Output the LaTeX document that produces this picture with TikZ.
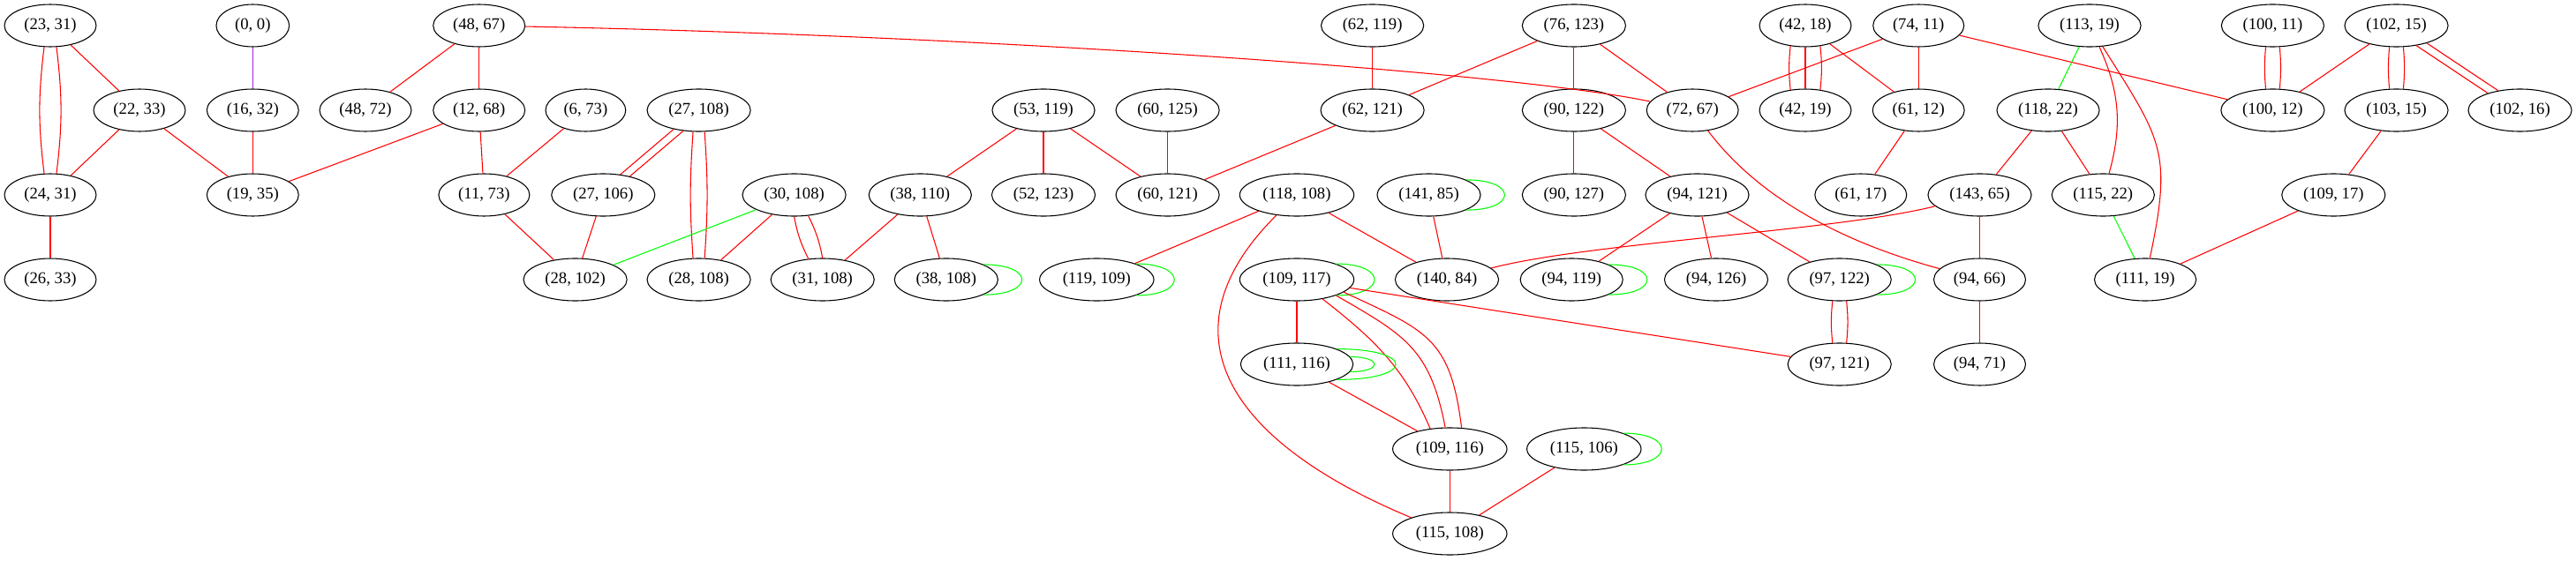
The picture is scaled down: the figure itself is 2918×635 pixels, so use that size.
\documentclass[tikz,border=0pt]{standalone}
\usepackage{fontspec}
\setmainfont{Liberation Serif}
\usepackage{tikz}
\usetikzlibrary{shapes.geometric}

\definecolor{gvred}{HTML}{FF0000}
\definecolor{gvgreen}{HTML}{00FF00}
\definecolor{gvpurple}{HTML}{A020F0}

\tikzset{
    pair/.style={ellipse, draw=black, line width=0.8pt, minimum width=62pt, minimum height=36pt,
        inner xsep=5.4pt, inner ysep=2pt, font=\fontsize{14}{16}\selectfont},
    redge/.style={draw=gvred, line width=0.8pt},
    gedge/.style={draw=gvgreen, line width=0.8pt},
    pedge/.style={draw=gvpurple, line width=0.8pt},
    gloop/.style={draw=gvgreen, line width=0.8pt}
}

\begin{document}
\begin{tikzpicture}[x=0.75pt, y=0.75pt]
    \useasboundingbox (0,0) rectangle (2918,-635);

    % first rank
    \node [pair] (n23x31) at (57,-29) {(23, 31)};
    \node [pair] (n0x0) at (286.3,-29) {(0, 0)};
    \node [pair] (n48x67) at (542.7,-29) {(48, 67)};
    \node [pair] (n62x119) at (1554.6,-29) {(62, 119)};
    \node [pair] (n76x123) at (1782.9,-29) {(76, 123)};
    \node [pair] (n42x18) at (2045,-29) {(42, 18)};
    \node [pair] (n74x11) at (2173.2,-29) {(74, 11)};
    \node [pair] (n113x19) at (2367,-29) {(113, 19)};
    \node [pair] (n100x11) at (2574.4,-29) {(100, 11)};
    \node [pair] (n102x15) at (2714.5,-29) {(102, 15)};

    % second rank
    \node [pair] (n22x33) at (158,-125) {(22, 33)};
    \node [pair] (n16x32) at (286.3,-125) {(16, 32)};
    \node [pair] (n48x72) at (414,-125) {(48, 72)};
    \node [pair] (n12x68) at (542.7,-125) {(12, 68)};
    \node [pair] (n6x73) at (663.4,-125) {(6, 73)};
    \node [pair] (n27x108) at (791.6,-125) {(27, 108)};
    \node [pair] (n53x119) at (1182,-125) {(53, 119)};
    \node [pair] (n60x125) at (1322.6,-125) {(60, 125)};
    \node [pair] (n62x121) at (1554.6,-125) {(62, 121)};
    \node [pair] (n90x122) at (1782.9,-125) {(90, 122)};
    \node [pair] (n72x67) at (1917.2,-125) {(72, 67)};
    \node [pair] (n42x19) at (2045,-125) {(42, 19)};
    \node [pair] (n61x12) at (2173.2,-125) {(61, 12)};
    \node [pair] (n118x22) at (2320,-125) {(118, 22)};
    \node [pair] (n100x12) at (2574.4,-125) {(100, 12)};
    \node [pair] (n103x15) at (2714.5,-125) {(103, 15)};
    \node [pair] (n102x16) at (2854.5,-125) {(102, 16)};

    % third rank
    \node [pair] (n24x31) at (57,-221) {(24, 31)};
    \node [pair] (n19x35) at (286.3,-221) {(19, 35)};
    \node [pair] (n11x73) at (548.4,-221) {(11, 73)};
    \node [pair] (n27x106) at (683.3,-221) {(27, 106)};
    \node [pair] (n30x108) at (899.6,-221) {(30, 108)};
    \node [pair] (n38x110) at (1042.3,-221) {(38, 110)};
    \node [pair] (n52x123) at (1182,-221) {(52, 123)};
    \node [pair] (n60x121) at (1322.6,-221) {(60, 121)};
    \node [pair] (n118x108) at (1469,-221) {(118, 108)};
    \node [pair] (n141x85) at (1618.5,-221) {(141, 85)};
    \node [pair] (n90x127) at (1782.9,-221) {(90, 127)};
    \node [pair] (n94x121) at (1922.5,-221) {(94, 121)};
    \node [pair] (n61x17) at (2107.8,-221) {(61, 17)};
    \node [pair] (n143x65) at (2242.5,-221) {(143, 65)};
    \node [pair] (n115x22) at (2382.3,-221) {(115, 22)};
    \node [pair] (n109x17) at (2643.3,-221) {(109, 17)};

    % fourth rank
    \node [pair] (n26x33) at (57,-317) {(26, 33)};
    \node [pair] (n28x102) at (651.6,-317) {(28, 102)};
    \node [pair] (n28x108) at (791.6,-317) {(28, 108)};
    \node [pair] (n31x108) at (931.7,-317) {(31, 108)};
    \node [pair] (n38x108) at (1071.8,-317) {(38, 108)};
    \node [pair] (n119x109) at (1242.3,-317) {(119, 109)};
    \node [pair] (n109x117) at (1469,-317) {(109, 117)};
    \node [pair] (n140x84) at (1639,-317) {(140, 84)};
    \node [pair] (n94x119) at (1780.2,-317) {(94, 119)};
    \node [pair] (n94x126) at (1944,-317) {(94, 126)};
    \node [pair] (n97x122) at (2083.7,-317) {(97, 122)};
    \node [pair] (n94x66) at (2242.5,-317) {(94, 66)};
    \node [pair] (n111x19) at (2430.1,-317) {(111, 19)};

    % lower ranks
    \node [pair] (n111x116) at (1469,-413) {(111, 116)};
    \node [pair] (n97x121) at (2083.7,-413) {(97, 121)};
    \node [pair] (n94x71) at (2242.5,-413) {(94, 71)};
    \node [pair] (n109x116) at (1642.3,-509) {(109, 116)};
    \node [pair] (n115x106) at (1794.3,-509) {(115, 106)};
    \node [pair] (n115x108) at (1642.3,-605) {(115, 108)};

    % left part
    \draw [redge] (n23x31.-106) to[bend right=7] (n24x31.106);
    \draw [redge] (n23x31.-74) to[bend left=7] (n24x31.74);
    \draw [redge] (n23x31) -- (n22x33);
    \draw [redge] (n22x33) -- (n24x31);
    \draw [redge] (n22x33) -- (n19x35);
    \draw [pedge] (n0x0) -- (n16x32);
    \draw [redge] (n16x32) -- (n19x35);
    \draw [redge] (n24x31) -- (n26x33);
    \draw [redge] (n48x67) -- (n48x72);
    \draw [redge] (n48x67) -- (n12x68);
    \draw [redge] (n48x67) .. controls (1100,-40) and (1700,-80) .. (n72x67);
    \draw [redge] (n12x68) -- (n19x35);
    \draw [redge] (n12x68) -- (n11x73);
    \draw [redge] (n6x73) -- (n11x73);
    \draw [redge] (n11x73) -- (n28x102);
    \draw [redge] (n27x108.-143) -- (n27x106.50);
    \draw [redge] (n27x108.-127) -- (n27x106.35);
    \draw [redge] (n27x108.-105) to[bend right=4] (n28x108.105);
    \draw [redge] (n27x108.-75) to[bend left=4] (n28x108.75);
    \draw [redge] (n27x106) -- (n28x102);
    \draw [gedge] (n30x108) -- (n28x102);
    \draw [redge] (n30x108) -- (n28x108);
    \draw [redge] (n30x108.-90) to[bend right=8] (n31x108.124);
    \draw [redge] (n30x108.-56) to[bend left=8] (n31x108.90);
    \draw [redge] (n38x110) -- (n31x108);
    \draw [redge] (n38x110) -- (n38x108);
    \draw [gloop] (n38x108.22) .. controls +(58,0) and +(58,0) .. (n38x108.-22);
    \draw [redge] (n53x119) -- (n38x110);
    \draw [redge] (n53x119) -- (n52x123);
    \draw [redge] (n53x119) -- (n60x121);
    \draw [redge] (n60x125) -- (n60x121);

    % middle part
    \draw [redge] (n62x121) -- (n60x121);
    \draw [redge] (n62x119) -- (n62x121);
    \draw [redge] (n76x123) -- (n62x121);
    \draw [redge] (n76x123) -- (n90x122);
    \draw [redge] (n76x123) -- (n72x67);
    \draw [redge] (n118x108) -- (n119x109);
    \draw [redge] (n118x108) -- (n140x84);
    \draw [redge] (n118x108) .. controls (1315,-374) and (1385,-498) .. (n115x108);
    \draw [gloop] (n119x109.22) .. controls +(58,0) and +(58,0) .. (n119x109.-22);
    \draw [gloop] (n141x85.22) .. controls +(58,0) and +(58,0) .. (n141x85.-22);
    \draw [redge] (n141x85) -- (n140x84);
    \draw [gloop] (n109x117.22) .. controls +(58,0) and +(58,0) .. (n109x117.-22);
    \draw [redge] (n109x117) -- (n111x116);
    \draw [redge] (n109x117.-37) to[out=-38, in=113] (n109x116.134);
    \draw [redge] (n109x117.-22) to[out=-30, in=101, looseness=1.2] (n109x116.102);
    \draw [redge] (n109x117.-15) to[out=-25, in=97, looseness=1.3] (n109x116.61);
    \draw [redge] (n109x117) -- (n97x121);
    \draw [gloop] (n111x116.21) .. controls +(89,0) and +(89,0) .. (n111x116.-21);
    \draw [gloop] (n111x116.8) .. controls +(37,0) and +(37,0) .. (n111x116.-8);
    \draw [redge] (n111x116) -- (n109x116);
    \draw [redge] (n109x116) -- (n115x108);
    \draw [redge] (n115x106) -- (n115x108);
    \draw [gloop] (n115x106.22) .. controls +(58,0) and +(58,0) .. (n115x106.-22);

    % right part
    \draw [redge] (n90x122) -- (n90x127);
    \draw [redge] (n90x122) -- (n94x121);
    \draw [redge] (n74x11) -- (n72x67);
    \draw [redge] (n72x67) .. controls (1985,-215) and (2070,-270) .. (n94x66);
    \draw [redge] (n94x121) -- (n94x119);
    \draw [redge] (n94x121) -- (n94x126);
    \draw [redge] (n94x121) -- (n97x122);
    \draw [gloop] (n94x119.22) .. controls +(58,0) and +(58,0) .. (n94x119.-22);
    \draw [gloop] (n97x122.22) .. controls +(58,0) and +(58,0) .. (n97x122.-22);
    \draw [redge] (n97x122.-108) to[bend right=6] (n97x121.108);
    \draw [redge] (n97x122.-72) to[bend left=6] (n97x121.72);
    \draw [redge] (n143x65) .. controls (2080,-262) and (1800,-275) .. (n140x84);
    \draw [redge] (n143x65) -- (n94x66);
    \draw [redge] (n94x66) -- (n94x71);
    \draw [redge] (n42x18.-126) to[bend right=6] (n42x19.126);
    \draw [redge] (n42x18) -- (n42x19);
    \draw [redge] (n42x18.-54) to[bend left=6] (n42x19.54);
    \draw [redge] (n42x18) -- (n61x12);
    \draw [redge] (n74x11) -- (n61x12);
    \draw [redge] (n74x11) -- (n100x12);
    \draw [redge] (n61x12) -- (n61x17);
    \draw [gedge] (n113x19) -- (n118x22);
    \draw [redge] (n113x19) to[bend left=20] (n115x22);
    \draw [redge] (n113x19) to[out=-58, in=78, looseness=1.3] (n111x19);
    \draw [redge] (n118x22) -- (n143x65);
    \draw [redge] (n118x22) -- (n115x22);
    \draw [gedge] (n115x22) -- (n111x19);
    \draw [redge] (n100x11.-108) to[bend right=5] (n100x12.108);
    \draw [redge] (n100x11.-72) to[bend left=5] (n100x12.72);
    \draw [redge] (n102x15) -- (n100x12);
    \draw [redge] (n102x15.-108) to[bend right=5] (n103x15.108);
    \draw [redge] (n102x15.-72) to[bend left=5] (n103x15.72);
    \draw [redge] (n102x15.-45) -- (n102x16.152);
    \draw [redge] (n102x15.-30) -- (n102x16.138);
    \draw [redge] (n103x15) -- (n109x17);
    \draw [redge] (n109x17) -- (n111x19);
\end{tikzpicture}
\end{document}
